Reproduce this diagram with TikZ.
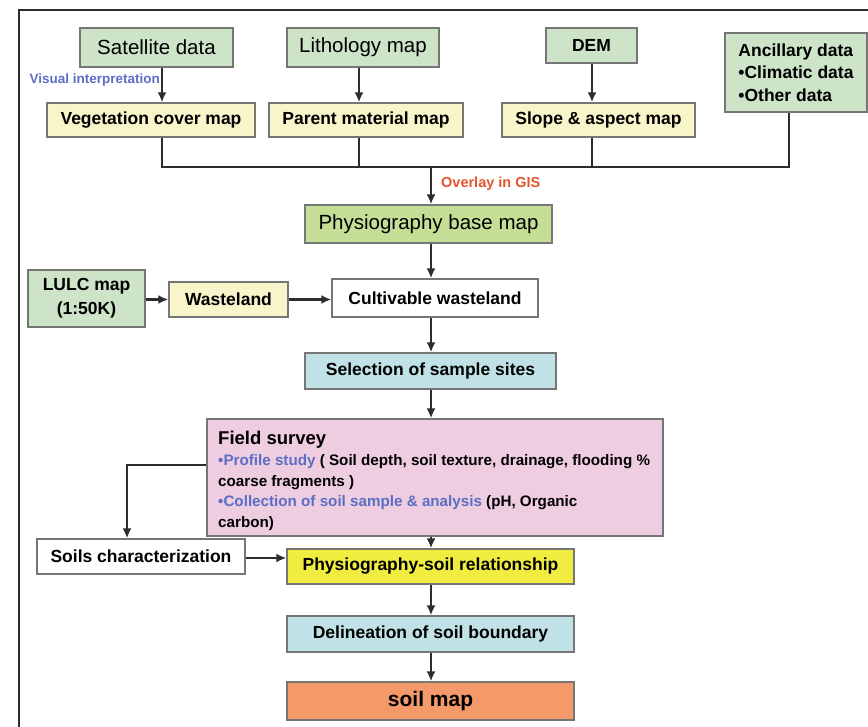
\documentclass[tikz,border=0pt]{standalone}
\usepackage{fontspec}
\setmainfont{Liberation Sans}
\usetikzlibrary{arrows.meta}

\definecolor{srcgreen}{RGB}{205,228,201}
\definecolor{mapyellow}{RGB}{248,245,202}
\definecolor{basegreen}{RGB}{196,222,150}
\definecolor{sitecyan}{RGB}{192,226,230}
\definecolor{fieldpink}{RGB}{238,205,225}
\definecolor{relyellow}{RGB}{241,237,64}
\definecolor{soilorange}{RGB}{243,153,106}
\definecolor{boxline}{RGB}{118,118,118}
\definecolor{linedark}{RGB}{45,45,45}
\definecolor{noteblue}{RGB}{92,110,196}
\definecolor{notered}{RGB}{228,84,46}

\begin{document}
\begin{tikzpicture}[x=1pt,y=-1pt,
  box/.style={draw=boxline,line width=1.3pt,inner sep=0pt,align=center,font=\bfseries\fontsize{17.5}{21}\selectfont},
  srcbox/.style={box,fill=srcgreen},
  srclight/.style={srcbox,font=\fontsize{20.5}{24}\selectfont},
  mapbox/.style={box,fill=mapyellow},
  plainbox/.style={box,fill=white},
  sitebox/.style={box,fill=sitecyan},
  note/.style={inner sep=0pt,font=\bfseries\fontsize{13.5}{16}\selectfont},
  arrow/.style={-{Latex[length=10pt,width=9pt]},line width=2.7pt,draw=linedark},
  link/.style={line width=2.7pt,draw=linedark}
]
\useasboundingbox (0,0) rectangle (868,727);

% Rahmen
\draw[line width=2pt,draw=linedark] (19,727) -- (19,10) -- (868,10);

% Eingangsdaten
\node[srclight,minimum width=153pt,minimum height=39pt] (sat) at (156.5,47.5) {Satellite data};
\node[srclight,minimum width=152pt,minimum height=39pt] (litho) at (363,47.5) {Lithology map};
\node[srcbox,minimum width=91pt,minimum height=35pt] (dem) at (591.5,45.5) {DEM};
\node[srcbox,minimum width=142pt,minimum height=79pt,align=left,font=\bfseries\fontsize{17.5}{22.5}\selectfont] (anc) at (796,72.5) {Ancillary data\\•Climatic data\\•Other data};

% Themenkarten
\node[mapbox,minimum width=208pt,minimum height=34pt] (veg) at (151,120) {Vegetation cover map};
\node[mapbox,minimum width=194pt,minimum height=34pt] (parent) at (366,120) {Parent material map};
\node[mapbox,minimum width=193pt,minimum height=34pt] (slope) at (598.5,120) {Slope \& aspect map};

% Spalten und Sammelschiene
\coordinate (colveg) at (162,0);
\coordinate (colpar) at (359,0);
\coordinate (colslp) at (592,0);
\coordinate (colanc) at (789,0);
\coordinate (trunk) at (431,167);

\node[note,text=noteblue,anchor=east] (visual) at (160,80) {Visual interpretation};
\node[note,text=notered,anchor=west,font=\bfseries\fontsize{14.5}{17}\selectfont] (overlay) at (441,184) {Overlay in GIS};

% Hauptpfad
\node[box,fill=basegreen,minimum width=247pt,minimum height=38pt,font=\fontsize{20.5}{24}\selectfont] (basemap) at (428.5,224) {Physiography base map};
\node[srcbox,minimum width=117pt,minimum height=57pt,font=\bfseries\fontsize{17.5}{24}\selectfont] (lulc) at (86.5,298.5) {LULC map\\(1:50K)};
\node[mapbox,minimum width=119pt,minimum height=35pt] (waste) at (228.5,299.5) {Wasteland};
\node[plainbox,minimum width=206pt,minimum height=38pt] (cult) at (435,298) {Cultivable wasteland};
\node[sitebox,minimum width=251pt,minimum height=36pt] (sites) at (430.5,371) {Selection of sample sites};
\node[box,fill=fieldpink,minimum width=456pt,minimum height=117pt] (field) at (435,477.5) {};
\node[anchor=north west,inner sep=0pt,align=left,font=\bfseries\fontsize{15.2}{20.7}\selectfont] (fieldtxt) at (218,431)
  {{\fontsize{18.5}{20.7}\selectfont Field survey}\\
   \textcolor{noteblue}{•Profile study} ( Soil depth, soil texture, drainage, flooding \%\\
   coarse fragments )\\
   \textcolor{noteblue}{•Collection of soil sample \& analysis} (pH, Organic\\
   carbon)};
\node[plainbox,minimum width=208pt,minimum height=35pt] (soilchar) at (141,556.5) {Soils characterization};
\node[box,fill=relyellow,minimum width=287pt,minimum height=35pt] (rel) at (430.5,566.5) {Physiography-soil relationship};
\node[sitebox,minimum width=287pt,minimum height=36pt] (delin) at (430.5,634) {Delineation of soil boundary};
\node[box,fill=soilorange,minimum width=287pt,minimum height=38pt,font=\bfseries\fontsize{21}{24}\selectfont] (soilmap) at (430.5,701) {soil map};

% Eingangsdaten zu Karten
\draw[arrow] (sat.south -| colveg) -- (veg.north -| colveg);
\draw[arrow] (litho.south -| colpar) -- (parent.north -| colpar);
\draw[arrow] (dem.south -| colslp) -- (slope.north -| colslp);

% Overlay
\draw[link] (veg.south -| colveg) -- (colveg |- trunk) -- (colanc |- trunk) -- (anc.south -| colanc);
\draw[link] (parent.south -| colpar) -- (colpar |- trunk);
\draw[link] (slope.south -| colslp) -- (colslp |- trunk);
\draw[arrow] (trunk) -- (basemap.north -| trunk);

% Kartierung
\draw[arrow] (basemap.south -| trunk) -- (cult.north -| trunk);
\draw[arrow] (lulc.east |- waste) -- (waste.west);
\draw[arrow] (waste.east) -- (cult.west |- waste);
\draw[arrow] (cult.south -| trunk) -- (sites.north -| trunk);
\draw[arrow] (sites.south -| trunk) -- (field.north -| trunk);
\draw[arrow] (field.west |- 0,465) -| (soilchar.north -| 127,0);
\draw[arrow] (field.south -| trunk) -- (rel.north -| trunk);
\draw[arrow] (soilchar.east |- 0,558) -- (rel.west |- 0,558);
\draw[arrow] (rel.south -| trunk) -- (delin.north -| trunk);
\draw[arrow] (delin.south -| trunk) -- (soilmap.north -| trunk);

\end{tikzpicture}
\end{document}
